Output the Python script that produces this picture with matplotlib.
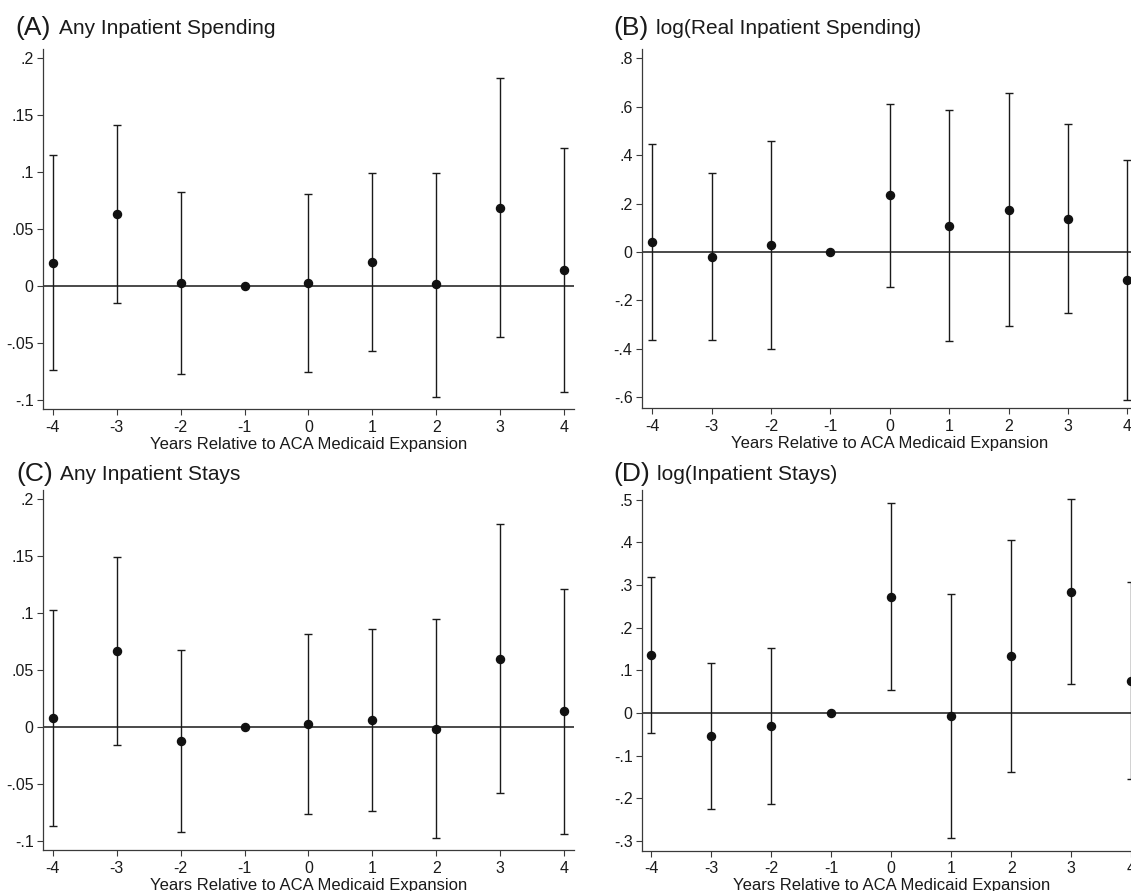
import numpy as np
import matplotlib
matplotlib.use("Agg")
import matplotlib.pyplot as plt

plt.rcParams['font.family'] = ['Liberation Sans', 'DejaVu Sans']

years = [-4, -3, -2, -1, 0, 1, 2, 3, 4]
year_labels = ["-4", "-3", "-2", "-1", "0", "1", "2", "3", "4"]
xlabel = "Years Relative to ACA Medicaid Expansion"

# (A) Any Inpatient Spending
a_coef = [0.020, 0.063, 0.003, 0.0, 0.003, 0.021, 0.0015, 0.069, 0.014]
a_lo = [-0.074, -0.015, -0.077, 0.0, -0.0755, -0.057, -0.097, -0.0445, -0.093]
a_hi = [0.115, 0.1415, 0.0825, 0.0, 0.081, 0.0995, 0.0995, 0.183, 0.121]
a_yticks = [-0.1, -0.05, 0, 0.05, 0.1, 0.15, 0.2]
a_ylabels = ["-.1", "-.05", "0", ".05", ".1", ".15", ".2"]

# (B) log(Real Inpatient Spending)
b_coef = [0.041, -0.019, 0.0275, 0.0, 0.234, 0.107, 0.175, 0.138, -0.116]
b_lo = [-0.363, -0.363, -0.402, 0.0, -0.143, -0.369, -0.306, -0.251, -0.611]
b_hi = [0.445, 0.325, 0.457, 0.0, 0.611, 0.588, 0.657, 0.529, 0.380]
b_yticks = [-0.6, -0.4, -0.2, 0, 0.2, 0.4, 0.6, 0.8]
b_ylabels = ["-.6", "-.4", "-.2", "0", ".2", ".4", ".6", ".8"]

# (C) Any Inpatient Stays
c_coef = [0.0085, 0.0667, -0.012, 0.0, 0.0026, 0.0064, -0.0012, 0.0603, 0.014]
c_lo = [-0.0866, -0.0152, -0.0916, 0.0, -0.0764, -0.0732, -0.0975, -0.0574, -0.0937]
c_hi = [0.103, 0.149, 0.068, 0.0, 0.082, 0.0863, 0.0951, 0.178, 0.1215]
c_yticks = [-0.1, -0.05, 0, 0.05, 0.1, 0.15, 0.2]
c_ylabels = ["-.1", "-.05", "0", ".05", ".1", ".15", ".2"]

# (D) log(Inpatient Stays)
d_coef = [0.136, -0.054, -0.0305, 0.0, 0.2727, -0.0078, 0.1336, 0.284, 0.0758]
d_lo = [-0.0477, -0.225, -0.2125, 0.0, 0.054, -0.294, -0.1375, 0.067, -0.155]
d_hi = [0.3195, 0.118, 0.153, 0.0, 0.493, 0.278, 0.4055, 0.501, 0.306]
d_yticks = [-0.3, -0.2, -0.1, 0, 0.1, 0.2, 0.3, 0.4, 0.5]
d_ylabels = ["-.3", "-.2", "-.1", "0", ".1", ".2", ".3", ".4", ".5"]

W, H = 1131, 891
fig = plt.figure(figsize=(W / 100, H / 100), dpi=100)
fig.patch.set_facecolor("white")


def add_ax(l, t, r, b):
    return fig.add_axes([l / W, 1 - b / H, (r - l) / W, (b - t) / H])


panels = [
    # letter, title, rect(px), xlim, ylim, coef, lo, hi, yticks, ylabels, letter x, title x, baseline y
    ("(A)", "Any Inpatient Spending", (43.3, 49.2, 573.5, 409.1), (-4.15, 4.15), (-0.108, 0.208),
     a_coef, a_lo, a_hi, a_yticks, a_ylabels, 15, 59, 34),
    ("(B)", "log(Real Inpatient Spending)", (642.3, 49.3, 1137.3, 408.2), (-4.17, 4.17), (-0.645, 0.837),
     b_coef, b_lo, b_hi, b_yticks, b_ylabels, 613, 656, 34),
    ("(C)", "Any Inpatient Stays", (43.3, 490.2, 573.5, 850.3), (-4.15, 4.15), (-0.108, 0.208),
     c_coef, c_lo, c_hi, c_yticks, c_ylabels, 16, 60, 479.5),
    ("(D)", "log(Inpatient Stays)", (642.3, 490.2, 1140.3, 850.7), (-4.15, 4.15), (-0.3227, 0.522),
     d_coef, d_lo, d_hi, d_yticks, d_ylabels, 613, 657, 479.5),
]

for letter, title, rect, xl, yl, coef, lo, hi, yt, ylab, lx, tx, by in panels:
    ax = add_ax(*rect)
    x = np.array(years, dtype=float)
    coef = np.array(coef)
    lo = np.array(lo)
    hi = np.array(hi)
    has_ci = hi > lo

    ax.axhline(0, color="#2a2a2a", lw=1.2, zorder=1)
    ax.errorbar(x[has_ci], coef[has_ci],
                yerr=[coef[has_ci] - lo[has_ci], hi[has_ci] - coef[has_ci]],
                fmt="none", ecolor="#1a1a1a", elinewidth=1.0, capsize=2.7, capthick=1.0, zorder=2)
    ax.plot(x, coef, "o", color="#111111", ms=5.8, zorder=3)

    ax.set_xlim(*xl)
    ax.set_ylim(*yl)
    ax.set_xticks(years)
    ax.set_xticklabels(year_labels)
    ax.set_yticks(yt)
    ax.set_yticklabels(ylab)
    for s in ["top", "right"]:
        ax.spines[s].set_visible(False)
    for s in ["left", "bottom"]:
        ax.spines[s].set_color("#3a3a3a")
        ax.spines[s].set_linewidth(0.9)
    ax.tick_params(axis="both", length=4.5, width=0.8, color="#3a3a3a", labelsize=11.5, labelcolor="#1a1a1a")
    ax.tick_params(axis="x", pad=3.0)
    ax.tick_params(axis="y", pad=2.5)
    ax.set_xlabel(xlabel, fontsize=12, color="#1a1a1a", labelpad=1.5)

    fig.text(lx / W, 1 - (by + 1.5) / H, letter, fontsize=19, color="#1a1a1a", ha="left", va="baseline")
    fig.text(tx / W, 1 - by / H, title, fontsize=15, color="#1a1a1a", ha="left", va="baseline")

fig.savefig("out.png", dpi=100, facecolor="white")
